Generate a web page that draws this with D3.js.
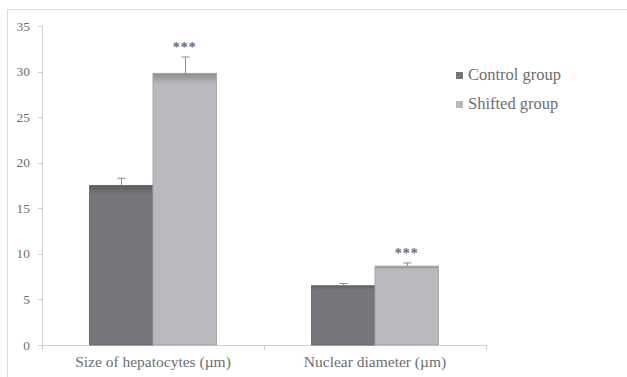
<!DOCTYPE html>
<html>
<head>
<meta charset="utf-8">
<script src="https://cdn.jsdelivr.net/npm/d3@7"></script>
<style>
  body { margin: 0; background: #fff; overflow: hidden; }
  text { font-family: "Liberation Serif", "DejaVu Serif", serif; fill: #6e6e6e; }
</style>
</head>
<body>
<script>
// chart data
var categories = ["Size of hepatocytes (\u00b5m)", "Nuclear diameter (\u00b5m)"];
var series = ["Control group", "Shifted group"];
var controlValues = [17.5, 6.5];
var controlErrors = [0.8, 0.25];
var shiftedValues = [29.8, 8.65];
var shiftedErrors = [1.8, 0.35];
var stars = ["", "***"]; // per series, control has none
var yTicks = [0, 5, 10, 15, 20, 25, 30, 35];

var w = 627, h = 377;
var plotLeft = 42, plotRight = 486, plotTop = 26, plotBottom = 345;

var svg = d3.select("body").append("svg")
    .attr("width", w)
    .attr("height", h);

// gradients for bar tops
var defs = svg.append("defs");
var fills = { "Control group": ["#5c5d61", "#76777b"], "Shifted group": ["#8c8d91", "#b9babe"] };
series.forEach(function (s, i) {
    var g = defs.append("linearGradient")
        .attr("id", "grad" + i)
        .attr("x1", 0).attr("y1", 0).attr("x2", 0).attr("y2", 1);
    g.append("stop").attr("offset", "0").attr("stop-color", fills[s][0]);
    g.append("stop").attr("offset", i === 0 ? "0.06" : "0.04").attr("stop-color", fills[s][1]);
    g.append("stop").attr("offset", "1").attr("stop-color", fills[s][1]);
});

// outer frame (only top and left edges fall inside the picture)
svg.append("path")
    .attr("d", "M7.5," + h + "V9.5H" + w)
    .attr("fill", "none")
    .attr("stroke", "#dcdcdc");

var x0 = d3.scaleBand()
    .domain(categories)
    .range([plotLeft, plotRight]);

var x1 = d3.scaleBand()
    .domain(series)
    .range([0, x0.bandwidth()])
    .paddingOuter(0.75);

var y = d3.scaleLinear()
    .domain([0, 35])
    .range([plotBottom, plotTop]);

// y axis
svg.append("line")
    .attr("x1", plotLeft + 0.5).attr("x2", plotLeft + 0.5)
    .attr("y1", y(35)).attr("y2", y(0))
    .attr("stroke", "#d0d0d0");

svg.selectAll(".ytick")
    .data(yTicks)
    .enter()
    .append("line")
    .attr("x1", plotLeft - 4).attr("x2", plotLeft)
    .attr("y1", d => Math.round(y(d)) + 0.5)
    .attr("y2", d => Math.round(y(d)) + 0.5)
    .attr("stroke", "#d0d0d0");

svg.selectAll(".ylabel")
    .data(yTicks)
    .enter()
    .append("text")
    .attr("x", 30)
    .attr("y", d => y(d) + 4.5)
    .attr("text-anchor", "end")
    .attr("font-size", "13.5px")
    .text(d => d);

// x axis
svg.append("line")
    .attr("x1", plotLeft).attr("x2", plotRight + 1)
    .attr("y1", plotBottom + 0.5).attr("y2", plotBottom + 0.5)
    .attr("stroke", "#d0d0d0");

svg.selectAll(".xtick")
    .data([plotLeft, x0(categories[1]), plotRight])
    .enter()
    .append("line")
    .attr("x1", d => Math.round(d) + 0.5).attr("x2", d => Math.round(d) + 0.5)
    .attr("y1", plotBottom).attr("y2", plotBottom + 5)
    .attr("stroke", "#d0d0d0");

svg.selectAll(".xlabel")
    .data(categories)
    .enter()
    .append("text")
    .attr("x", d => x0(d) + x0.bandwidth() / 2)
    .attr("y", plotBottom + 22)
    .attr("text-anchor", "middle")
    .attr("font-size", "15.5px")
    .text(d => d);

// bars
var rows = [];
categories.forEach(function (c, i) {
    rows.push({ cat: c, s: series[0], si: 0, v: controlValues[i], e: controlErrors[i], star: "" });
    rows.push({ cat: c, s: series[1], si: 1, v: shiftedValues[i], e: shiftedErrors[i], star: stars[1] });
});

svg.selectAll(".bar")
    .data(rows)
    .enter()
    .append("rect")
    .attr("x", d => x0(d.cat) + x1(d.s))
    .attr("y", d => y(d.v))
    .attr("width", x1.bandwidth())
    .attr("height", d => y(0) - y(d.v))
    .attr("fill", d => "url(#grad" + d.si + ")")
    .attr("stroke", d => d.si === 0 ? "#6a6b6f" : "#a5a6aa")
    .attr("stroke-width", 1);

// error bars
svg.selectAll(".err")
    .data(rows)
    .enter()
    .append("path")
    .attr("d", function (d) {
        var cx = Math.round(x0(d.cat) + x1(d.s) + x1.bandwidth() / 2) + 0.5;
        var yt = y(d.v + d.e), yb = y(d.v);
        return "M" + cx + "," + yb + "V" + yt + "M" + (cx - 4) + "," + yt + "H" + (cx + 4);
    })
    .attr("stroke", "#8a8a8a")
    .attr("fill", "none");

svg.selectAll(".star")
    .data(rows.filter(d => d.star))
    .enter()
    .append("text")
    .attr("x", d => x0(d.cat) + x1(d.s) + x1.bandwidth() / 2)
    .attr("y", d => y(d.v + d.e) - 5)
    .attr("text-anchor", "middle")
    .attr("font-size", "14px")
    .attr("font-weight", "bold")
    .attr("letter-spacing", "1px")
    .text(d => d.star);

// legend
var legend = svg.selectAll(".legend")
    .data(series)
    .enter()
    .append("g")
    .attr("transform", (d, i) => "translate(456," + (72 + i * 29) + ")");

legend.append("rect")
    .attr("width", 7).attr("height", 7)
    .attr("fill", (d, i) => fills[d][1]);

legend.append("text")
    .attr("x", 12)
    .attr("y", 8)
    .attr("font-size", "16.5px")
    .text(d => d);
</script>
</body>
</html>
